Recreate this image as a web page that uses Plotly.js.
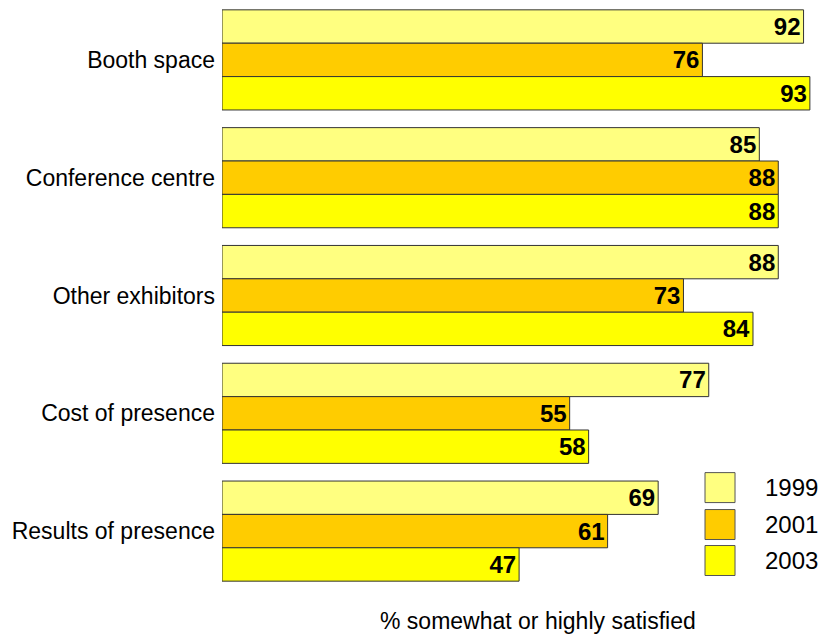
<!DOCTYPE html>
<html>
<head>
<meta charset="utf-8">
<script src="https://cdn.plot.ly/plotly-3.0.1.min.js"></script>
<style>
  html, body { margin: 0; padding: 0; background: #fff; }
  #chart { width: 827px; height: 636px; }
</style>
</head>
<body>
<div id="chart"></div>
<script>
// Satisfaction ratings by aspect, three survey years
const categories = ["Booth space", "Conference centre", "Other exhibitors", "Cost of presence", "Results of presence"];
const years = ["1999", "2001", "2003"];
const values1999 = [92, 85, 88, 77, 69];
const values2001 = [76, 88, 73, 55, 61];
const values2003 = [93, 88, 84, 58, 47];
const seriesValues = [values1999, values2001, values2003];
const colors = ["#FFFF80", "#FFCC00", "#FFFF00"];
const axisTitle = "% somewhat or highly satisfied";

const FONT = "Liberation Sans, Arial, sans-serif";

const traces = years.map((yr, i) => ({
  type: "bar",
  orientation: "h",
  name: yr,
  y: categories,
  x: seriesValues[i],
  text: seriesValues[i].map(String),
  textposition: "inside",
  insidetextanchor: "end",
  constraintext: "none",
  textfont: { family: FONT, size: 24, color: "#000", weight: "bold" },
  marker: { color: colors[i], line: { color: "#333333", width: 1 } },
  showlegend: false,
  hoverinfo: "skip"
}));

// Hand-placed legend: colour boxes with year labels in the lower right
const boxY = [[0.1484, 0.1993], [0.0857, 0.1366], [0.0246, 0.0755]];
const shapes = years.map((yr, i) => ({
  type: "rect", xref: "paper", yref: "paper",
  x0: 0.8077, x1: 0.8579, y0: boxY[i][0], y1: boxY[i][1],
  fillcolor: colors[i], line: { color: "#555555", width: 1 }
}));
const annotations = years.map((yr, i) => ({
  xref: "paper", yref: "paper",
  x: 0.905, y: (boxY[i][0] + boxY[i][1]) / 2,
  xanchor: "left", yanchor: "middle",
  text: yr, showarrow: false,
  font: { family: FONT, size: 24, color: "#000" }
}));
annotations.push({
  xref: "paper", yref: "paper", x: 0.528, y: -0.0534,
  xanchor: "center", yanchor: "middle",
  text: axisTitle, showarrow: false,
  font: { family: FONT, size: 23, color: "#000" }
});

const layout = {
  width: 827, height: 636,
  margin: { l: 222, r: 7, t: 1, b: 46 },
  paper_bgcolor: "#fff", plot_bgcolor: "#fff",
  barmode: "group", bargap: 0.15, bargroupgap: 0,
  font: { family: FONT, size: 23, color: "#000" },
  xaxis: { range: [0, 94.6], showgrid: false, zeroline: false, showline: false,
           showticklabels: false, ticks: "" },
  yaxis: { type: "category", range: [4.5, -0.5], showgrid: false, zeroline: false,
           showline: false, ticks: "", ticklabelstandoff: 6,
           tickfont: { family: FONT, size: 23, color: "#000" } },
  shapes: shapes,
  annotations: annotations
};

Plotly.newPlot("chart", traces, layout, { staticPlot: true, displayModeBar: false });
</script>
</body>
</html>
